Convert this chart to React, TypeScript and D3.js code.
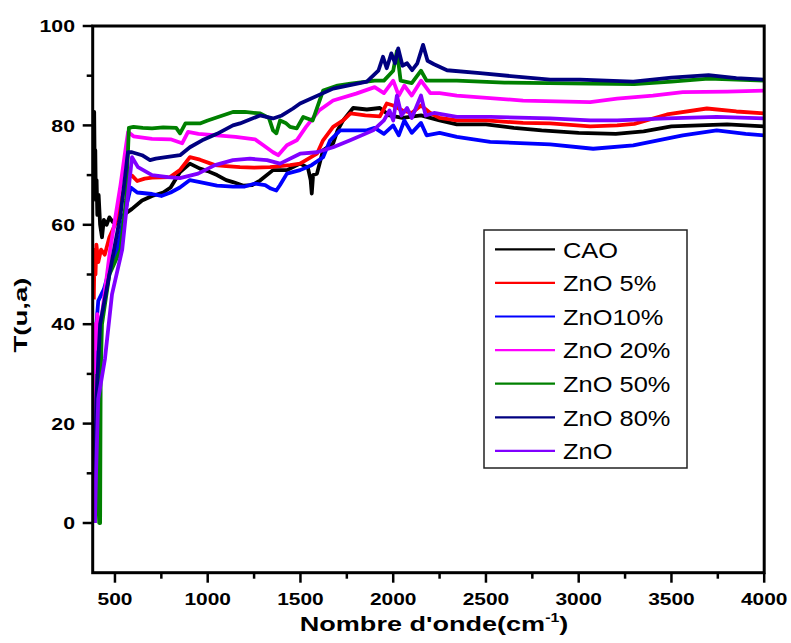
import React from 'react';
import * as d3 from 'd3';

const W = 791;
const H = 643;
const plot = { left: 92.7, right: 764.2, top: 26, bottom: 572.7 };

const xDomain: [number, number] = [380, 4000];
const yDomain: [number, number] = [-10, 100];

const xMajorTicks = [500, 1000, 1500, 2000, 2500, 3000, 3500, 4000];
const xMinorTicks = [750, 1250, 1750, 2250, 2750, 3250, 3750];
const yMajorTicks = [0, 20, 40, 60, 80, 100];
const yMinorTicks = [10, 30, 50, 70, 90];

const seriesNames = ['CAO', 'ZnO 5%', 'ZnO10%', 'ZnO 20%', 'ZnO 50%', 'ZnO 80%', 'ZnO'];
const seriesColors = ['#000000', '#ff0000', '#0000ff', '#ff00ff', '#008000', '#000080', '#8000ff'];

type Pt = [number, number];

// wavenumber (cm-1), transmittance (u.a.)
const cao: Pt[] = [
  [383, 66], [388, 82.7], [391, 70], [394, 75], [397, 65], [401, 69], [405, 62], [412, 66],
  [420, 60], [430, 57.5], [440, 61], [455, 60], [470, 61.5], [490, 60.5], [516, 61], [554, 62.2],
  [592, 63.2], [646, 64.9], [700, 65.8], [760, 66.5], [800, 67.5], [851, 70.6], [904, 72.3],
  [958, 71.3], [1000, 70.8], [1050, 70], [1100, 69], [1136, 68.6], [1190, 67.9], [1240, 68],
  [1282, 68.9], [1352, 71], [1427, 71], [1498, 72.3], [1540, 71.5], [1555, 69], [1561, 66.3],
  [1568, 70], [1589, 70.3], [1622, 75], [1676, 76.4], [1700, 79], [1730, 81], [1784, 83.5],
  [1858, 83.2], [1928, 83.5], [1980, 82], [2050, 81.5], [2150, 82], [2250, 81], [2343, 80.2],
  [2500, 80.2], [2650, 79.5], [2800, 79], [3000, 78.5], [3200, 78.3], [3350, 78.8], [3500, 79.8],
  [3650, 80], [3800, 80.2], [4000, 79.8],
];

const zno5: Pt[] = [
  [386, 45], [390, 55], [395, 50], [400, 56], [410, 52.5], [425, 55], [445, 54], [470, 57.5],
  [500, 60], [540, 66], [565, 69.5], [592, 69.9], [620, 68.8], [660, 69.3], [700, 69.5],
  [797, 69.6], [850, 71], [904, 73.6], [958, 73.1], [1039, 72], [1100, 71.8], [1174, 71.6],
  [1250, 71.5], [1336, 71.6], [1444, 72], [1498, 72.3], [1589, 74.3], [1622, 77], [1676, 79.7],
  [1730, 81], [1770, 82.4], [1850, 82], [1928, 81.8], [1965, 84.4], [2000, 84], [2050, 83],
  [2100, 82.5], [2150, 84], [2200, 82.5], [2250, 81.5], [2343, 81], [2500, 81], [2700, 80.5],
  [2846, 80.4], [3062, 79.8], [3207, 80], [3300, 80.3], [3476, 82.2], [3691, 83.4],
  [3850, 82.8], [4000, 82.4],
];

const zno10: Pt[] = [
  [390, 5], [395, 20], [400, 40], [410, 44.7], [440, 47], [470, 51], [512, 55], [550, 62],
  [585, 67.5], [620, 66.5], [700, 66.2], [750, 65.8], [800, 66.5], [850, 67.5], [904, 69],
  [958, 68.6], [1050, 67.9], [1136, 67.7], [1200, 67.7], [1255, 68.3], [1310, 68], [1340, 67.3],
  [1370, 66.9], [1390, 68], [1427, 70.3], [1498, 71], [1560, 72], [1622, 73.6], [1660, 77],
  [1714, 79], [1858, 79], [1900, 79.5], [1950, 78.3], [2000, 80], [2030, 78], [2060, 81],
  [2100, 78.5], [2150, 80.5], [2180, 78], [2250, 78.5], [2343, 77.7], [2523, 76.7],
  [2846, 76.2], [3078, 75.3], [3294, 76], [3561, 78], [3744, 79], [3900, 78.3], [4000, 78],
];

const zno20: Pt[] = [
  [388, 20], [392, 40], [398, 35], [405, 42], [420, 39], [474, 55], [530, 68], [560, 76],
  [571, 78.7], [600, 77.8], [700, 77.3], [800, 77.2], [862, 76.4], [894, 78.7], [950, 78.3],
  [1050, 78], [1150, 77.7], [1255, 77.2], [1300, 76], [1352, 74.6], [1380, 74], [1427, 76],
  [1480, 77], [1530, 79.7], [1600, 83], [1676, 85], [1800, 86.4], [1900, 87.7], [1950, 86.5],
  [2000, 89], [2030, 86], [2060, 88], [2100, 86], [2150, 89], [2200, 86.5], [2250, 86.5],
  [2343, 86], [2700, 85], [3062, 84.7], [3207, 85.4], [3400, 86], [3561, 86.7], [3800, 86.8],
  [4000, 87],
];

const zno50: Pt[] = [
  [405, 30], [410, 5], [415, 0], [420, 0], [423, 30], [430, 40], [470, 50], [530, 55],
  [560, 65], [575, 79.5], [600, 79.7], [650, 79.5], [700, 79.4], [760, 79.6], [830, 79.5],
  [851, 78.4], [880, 80.4], [958, 80.4], [1000, 81], [1136, 82.7], [1200, 82.7], [1283, 82.4],
  [1330, 81.5], [1352, 79], [1370, 78.4], [1390, 81], [1420, 80.5], [1444, 79.7], [1480, 79.4],
  [1515, 81.7], [1566, 81], [1622, 87], [1700, 88], [1770, 88.4], [1900, 89], [1950, 89],
  [2000, 91], [2020, 95], [2040, 89], [2100, 88.5], [2150, 91], [2180, 89], [2250, 89],
  [2343, 89], [2600, 88.6], [3062, 88.4], [3300, 88.3], [3500, 88.8], [3700, 89.4], [4000, 89],
];

const zno80: Pt[] = [
  [390, 0], [395, 15], [400, 25], [420, 40], [470, 50], [530, 62], [570, 74.6], [592, 74.6],
  [646, 74], [689, 73], [720, 73.3], [775, 73.6], [851, 74], [904, 75.6], [970, 77],
  [1050, 78.3], [1136, 80], [1174, 80.4], [1282, 82], [1352, 81.4], [1400, 82], [1460, 83.4],
  [1498, 84.4], [1676, 87.4], [1858, 88.8], [1920, 91], [1945, 93.8], [1965, 91.5],
  [1990, 94.5], [2010, 92.5], [2027, 95.5], [2050, 92], [2075, 92.5], [2102, 91.1],
  [2130, 92.5], [2161, 96.2], [2185, 93], [2220, 92.3], [2290, 91.1], [2468, 90.5],
  [2846, 89.2], [3007, 89.2], [3294, 88.8], [3500, 89.6], [3700, 90.1], [3850, 89.5],
  [4000, 89.2],
];

const zno: Pt[] = [
  [392, 0], [398, 10], [410, 25], [446, 33], [484, 46], [539, 55], [570, 66], [592, 73.6],
  [624, 71.6], [700, 70], [786, 69.6], [850, 69.4], [948, 70.3], [1039, 72], [1136, 73],
  [1228, 73.3], [1320, 73], [1390, 72.3], [1498, 74.3], [1589, 74.6], [1676, 75.6], [1768, 77],
  [1892, 79], [1950, 81], [1980, 83], [2000, 81], [2020, 86], [2045, 82], [2075, 83.5],
  [2100, 81.5], [2150, 86], [2175, 82], [2220, 82.5], [2343, 81.7], [2523, 81.7], [2846, 81.4],
  [3062, 81], [3207, 81], [3476, 81.4], [3744, 81.7], [4000, 81.4],
];

const seriesData: Pt[][] = [cao, zno5, zno10, zno20, zno50, zno80, zno];

const FONT = '"Liberation Sans", Arial, sans-serif';

export default function App() {
  const x = d3.scaleLinear().domain(xDomain).range([plot.left, plot.right]);
  const y = d3.scaleLinear().domain(yDomain).range([plot.bottom, plot.top]);
  const line = d3
    .line<Pt>()
    .x((d) => x(d[0]))
    .y((d) => y(d[1]));

  const legendX = 484;
  const legendY = 230;
  const legendW = 203;
  const legendH = 238;
  const rowY = (i: number) => 249.3 + i * 33.6;

  return (
    <svg
      width={W}
      height={H}
      viewBox={`0 0 ${W} ${H}`}
      style={{ position: 'absolute', left: 0, top: 0, background: '#fff' }}
    >
      <defs>
        <clipPath id="plotArea">
          <rect x={plot.left} y={plot.top} width={plot.right - plot.left} height={plot.bottom - plot.top} />
        </clipPath>
      </defs>
      <rect width={W} height={H} fill="#fff" />

      {/* spectra */}
      <g clipPath="url(#plotArea)">
        {seriesData.map((d, i) => (
          <path
            key={seriesNames[i]}
            d={line(d) ?? ''}
            fill="none"
            stroke={seriesColors[i]}
            strokeWidth={3.8}
            strokeLinejoin="round"
          />
        ))}
      </g>

      {/* frame */}
      <rect
        x={plot.left}
        y={plot.top}
        width={plot.right - plot.left}
        height={plot.bottom - plot.top}
        fill="none"
        stroke="#000"
        strokeWidth={3}
      />

      {/* y axis ticks */}
      {yMajorTicks.map((t) => (
        <g key={'ym' + t}>
          <line x1={plot.left - 10} x2={plot.left} y1={y(t)} y2={y(t)} stroke="#000" strokeWidth={2.5} />
          <text
            transform={`translate(75,${y(t)}) scale(1.25,1)`}
            dy="0.36em"
            textAnchor="end"
            fontFamily={FONT}
            fontWeight="bold"
            fontSize={17}
            fill="#000"
          >
            {t}
          </text>
        </g>
      ))}
      {yMinorTicks.map((t) => (
        <line key={'yn' + t} x1={plot.left - 6} x2={plot.left} y1={y(t)} y2={y(t)} stroke="#000" strokeWidth={2.5} />
      ))}

      {/* x axis ticks */}
      {xMajorTicks.map((t) => (
        <g key={'xm' + t}>
          <line x1={x(t)} x2={x(t)} y1={plot.bottom} y2={plot.bottom + 10} stroke="#000" strokeWidth={2.5} />
          <text
            transform={`translate(${x(t)},605) scale(1.27,1)`}
            textAnchor="middle"
            fontFamily={FONT}
            fontWeight="bold"
            fontSize={16.5}
            fill="#000"
          >
            {t}
          </text>
        </g>
      ))}
      {xMinorTicks.map((t) => (
        <line key={'xn' + t} x1={x(t)} x2={x(t)} y1={plot.bottom} y2={plot.bottom + 6} stroke="#000" strokeWidth={2.5} />
      ))}

      {/* axis titles */}
      <text
        transform="translate(434,631) scale(1.32,1)"
        textAnchor="middle"
        fontFamily={FONT}
        fontWeight="bold"
        fontSize={20.5}
        fill="#000"
      >
        Nombre d'onde(cm
        <tspan fontSize={12} dy={-9}>-1</tspan>
        <tspan dy={9}>)</tspan>
      </text>
      <text
        transform="translate(27,315) rotate(-90)"
        textAnchor="middle"
        fontFamily={FONT}
        fontWeight="bold"
        fontSize={19}
        textLength={75}
        lengthAdjust="spacingAndGlyphs"
        fill="#000"
      >
        T(u,a)
      </text>

      {/* legend */}
      <rect x={legendX} y={legendY} width={legendW} height={legendH} fill="#fff" stroke="#222" strokeWidth={1.5} />
      {seriesNames.map((name, i) => (
        <g key={'lg' + name}>
          <line x1={495} x2={555} y1={rowY(i)} y2={rowY(i)} stroke={seriesColors[i]} strokeWidth={2.2} />
          <text
            transform={`translate(563,${rowY(i) + 8.2}) scale(1.13,1)`}
            fontFamily={FONT}
            fontSize={22.5}
            fill="#000"
          >
            {name}
          </text>
        </g>
      ))}
    </svg>
  );
}
